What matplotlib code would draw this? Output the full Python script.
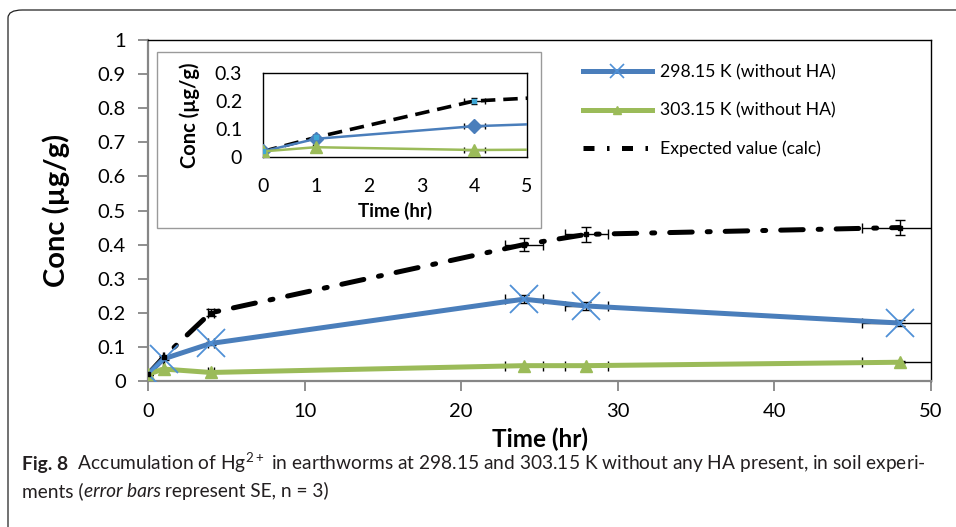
import matplotlib
matplotlib.use("Agg")
import matplotlib.pyplot as plt
from matplotlib.patches import FancyBboxPatch, Rectangle
from matplotlib.lines import Line2D
import numpy as np

# data
time_hr = [0, 1, 4, 24, 28, 48]
conc_298 = [0.02, 0.065, 0.11, 0.24, 0.22, 0.17]
conc_303 = [0.02, 0.035, 0.025, 0.045, 0.045, 0.055]
conc_expected = [0.02, 0.07, 0.20, 0.40, 0.43, 0.45]
err_frac = 0.05  # error bars are 5 % of value, both directions

labels = ["298.15 K (without HA)", "303.15 K (without HA)", "Expected value (calc)"]

main_xticks = [0, 10, 20, 30, 40, 50]
main_yticks = [0, 0.1, 0.2, 0.3, 0.4, 0.5, 0.6, 0.7, 0.8, 0.9, 1]
inset_xticks = [0, 1, 2, 3, 4, 5]
inset_yticks = [0, 0.1, 0.2, 0.3]

BLUE = "#4A7EBB"
BLUE_MK = "#4F90D6"
GREEN = "#9BBB59"
GRAY = "#868686"

plt.rcParams["font.family"] = ["Lato", "DejaVu Sans"]
plt.rcParams["mathtext.fontset"] = "custom"
plt.rcParams["mathtext.rm"] = "Lato"

fig = plt.figure(figsize=(9.56, 5.27), dpi=100)

# outer rounded frame
frame = FancyBboxPatch((8 / 956, -0.05), 1.2, 1.05 - 10 / 527,
                       boxstyle="round,pad=0,rounding_size=0.015",
                       transform=fig.transFigure, fill=False,
                       edgecolor="#222222", lw=0.9, clip_on=False)
fig.patches.append(frame)

t = np.array(time_hr, float)
s1 = np.array(conc_298)
s2 = np.array(conc_303)
se = np.array(conc_expected)

ax = fig.add_axes([148 / 956, 1 - 381 / 527, (931 - 148) / 956, (381 - 40) / 527])


def draw_series(a, inset=False):
    ebk = dict(fmt="none", ecolor="black", elinewidth=1.0, capsize=3.5 if not inset else 2.5,
               capthick=1.0, zorder=2)
    if not inset:
        a.plot(t, se, color="black", lw=3.6, dashes=(4.5, 3, 0.6, 3), solid_capstyle="round",
               dash_capstyle="round", zorder=3)
        a.plot(t, s1, color=BLUE, lw=3.6, zorder=4)
        a.plot(t, s1, ls="none", marker="x", ms=20, mew=1.3, color=BLUE_MK, zorder=5)
        a.plot(t, s2, color=GREEN, lw=3.6, marker="^", ms=9, mec=GREEN, zorder=4)
        a.plot(t, se, ls="none", marker="s", ms=3, color="black", zorder=5)
    else:
        a.plot(t, se, color="black", lw=2.6, dashes=(4, 2.2), zorder=3)
        a.plot(t, s1, color=BLUE, lw=1.8, marker="D", ms=7, zorder=4)
        a.plot(t, s2, color=GREEN, lw=1.8, marker="^", ms=9, zorder=4)
        a.plot(t, se, ls="none", marker="s", ms=3.5, color="#3FA7D6", zorder=5)
    for s in (s1, s2, se):
        a.errorbar(t, s, xerr=err_frac * t, yerr=err_frac * s, **ebk)


draw_series(ax)
ax.set_xlim(0, 50)
ax.set_ylim(0, 1)
ax.set_xticks(main_xticks)
ax.set_yticks(main_yticks)
ax.set_yticklabels(["0" if v == 0 else ("1" if v == 1 else f"{v:.1f}") for v in main_yticks])
ax.tick_params(direction="out", length=7, width=1.3, color=GRAY, labelsize=14.5, pad=9)
for side in ("left", "bottom"):
    ax.spines[side].set_color(GRAY)
    ax.spines[side].set_linewidth(1.6)
for side in ("top", "right"):
    ax.spines[side].set_color("black")
    ax.spines[side].set_linewidth(1.0)
ax.set_xlabel("Time (hr)", fontsize=17.5, fontweight="bold", labelpad=5)
ax.set_ylabel("Conc (µg/g)", fontsize=21, fontweight="bold", labelpad=20)

# legend drawn with proxy lines
handles = [
    Line2D([], [], color=BLUE, lw=3.6, marker="x", ms=10, mew=1.2, mec=BLUE_MK),
    Line2D([], [], color=GREEN, lw=3.6, marker="^", ms=6),
    Line2D([], [], color="black", lw=3.6, dashes=(2.2, 2.5, 0.5, 2.5)),
]
ax.legend(handles, labels, loc="upper left", bbox_to_anchor=(0.535, 0.975), frameon=False,
          fontsize=12.7, handlelength=3.9, labelspacing=1.25, handletextpad=0.5)

# inset box and inset axes
box = Rectangle((157 / 956, 1 - 228 / 527), (541 - 157) / 956, (228 - 52) / 527,
                transform=fig.transFigure, facecolor="white", edgecolor="#9a9a9a",
                lw=1.0, zorder=5)
fig.patches.append(box)
ins = fig.add_axes([263 / 956, 1 - 157 / 527, (527 - 263) / 956, (157 - 73) / 527])
ins.set_zorder(6)
draw_series(ins, inset=True)
ins.set_xlim(0, 5)
ins.set_ylim(0, 0.3)
ins.set_xticks(inset_xticks)
ins.set_yticks(inset_yticks)
ins.set_yticklabels(["0", "0.1", "0.2", "0.3"])
ins.tick_params(length=0, labelsize=14, pad=15)
for sp in ins.spines.values():
    sp.set_color("black")
    sp.set_linewidth(1.0)
ins.set_xlabel("Time (hr)", fontsize=13.5, fontweight="bold", labelpad=5)
ins.set_ylabel("Conc (µg/g)", fontsize=14.5, fontweight="bold", labelpad=11)

# caption
cap_color = "#231f20"


def write_pieces(x, y, pieces, size, target=None):
    renderer = fig.canvas.get_renderer()
    made = []
    x0 = x
    for text, kw in pieces:
        tx = fig.text(x, y, text, fontsize=size, color=cap_color, va="baseline", ha="left", **kw)
        bb = tx.get_window_extent(renderer)
        x = bb.x1 / fig.bbox.width
        made.append(tx)
    if target is not None:
        width = x - x0
        for tx in made:
            tx.remove()
        return write_pieces(x0, y, pieces, size * target / width)
    return size


line1 = [
    ("Fig. 8", dict(fontweight="bold")),
    ("  Accumulation of Hg$^{2+}$ in earthworms at 298.15 and 303.15 K without any HA present, in soil experi-", {}),
]
line2 = [
    ("ments (", {}),
    ("error bars", dict(style="italic")),
    (" represent SE, n = 3)", {}),
]
cap_size = write_pieces(22 / 956, 1 - 470 / 527, line1, 12.5, target=(930 - 22) / 956)
write_pieces(22 / 956, 1 - 497 / 527, line2, cap_size)

fig.savefig("out.png", dpi=100)
